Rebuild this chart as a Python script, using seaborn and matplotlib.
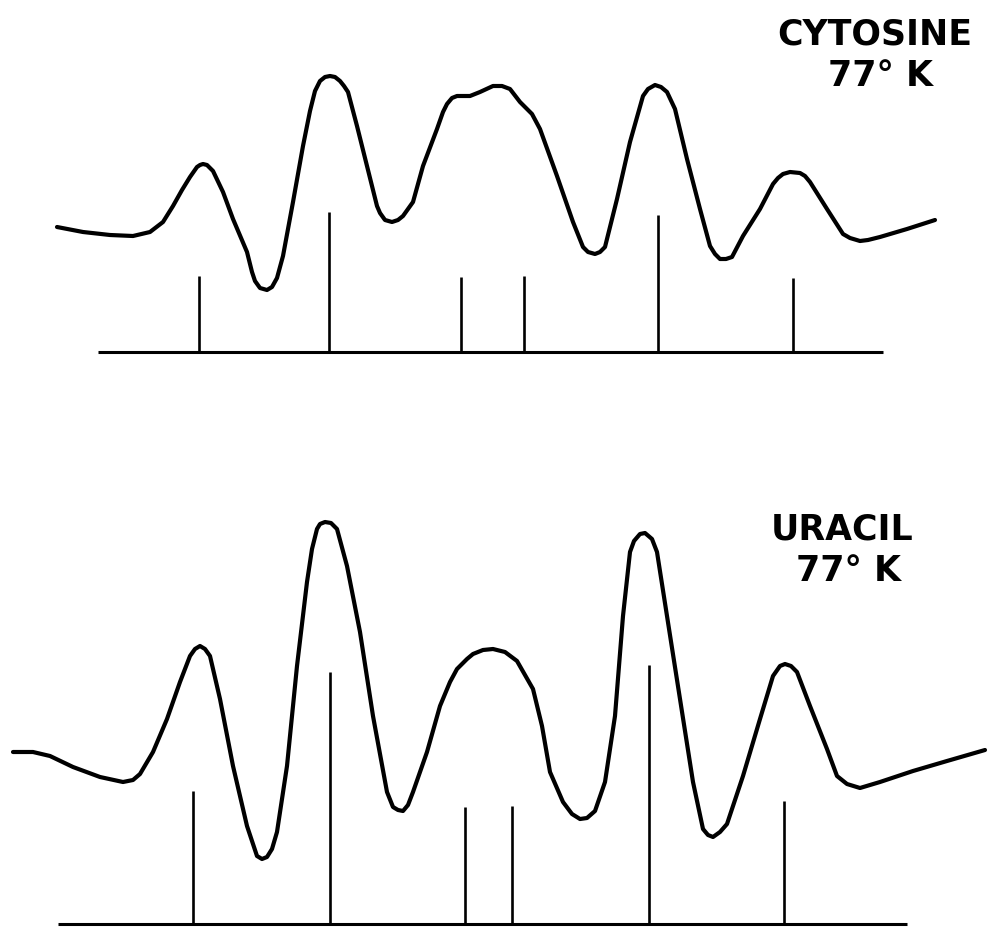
import numpy as np
import pandas as pd
import seaborn as sns
import matplotlib.pyplot as plt

# cytosine, 77 K: derivative trace (field position, signal height above stick baseline)
cyt_x = [57, 83, 110, 133, 150, 163, 173, 182, 190, 197, 200, 203, 207, 213, 223, 233, 247, 252,
         255, 260, 267, 272, 277, 283, 293, 303, 310, 315, 320, 325, 330, 335, 340, 344, 348, 357,
         367, 377, 380, 385, 392, 398, 403, 413, 423, 437, 443, 447, 452, 457, 470, 480, 493, 502,
         510, 520, 532, 540, 557, 573, 583, 588, 595, 600, 605, 617, 630, 643, 648, 655, 661, 667,
         675, 687, 700, 710, 715, 720, 726, 732, 743, 760, 773, 778, 783, 790, 800, 805, 810, 827,
         843, 850, 860, 868, 880, 907, 935]
cyt_y = [125, 120, 117, 116, 120, 130, 146, 162, 175, 185, 187, 188, 187, 181, 160, 133, 100, 80,
         71, 64, 62, 65, 74, 96, 150, 206, 241, 261, 271, 275, 276, 275, 271, 266, 260, 226,
         186, 146, 139, 132, 130, 132, 136, 150, 186, 223, 240, 248, 254, 256, 256, 260, 266, 266,
         263, 250, 238, 223, 176, 130, 105, 100, 98, 100, 105, 153, 210, 256, 263, 267, 265, 260,
         243, 193, 143, 106, 98, 93, 93, 95, 116, 143, 168, 174, 178, 180, 179, 176, 170, 143,
         118, 114, 111, 112, 115, 123, 132]
cyt_lines = [199, 329, 461, 524, 658, 793]
cyt_heights = [76, 140, 75, 76, 137, 74]

# uracil, 77 K
ura_x = [13, 33, 50, 73, 100, 123, 133, 140, 153, 167, 180, 190, 195, 200, 205, 210, 220, 233,
         247, 257, 262, 267, 272, 277, 287, 297, 307, 312, 317, 320, 325, 331, 337, 347, 360, 373,
         387, 393, 398, 403, 408, 413, 427, 440, 450, 457, 467, 473, 483, 493, 505, 517, 533, 542,
         550, 563, 572, 580, 587, 595, 605, 615, 623, 630, 634, 640, 645, 652, 657, 667, 680, 693,
         703, 708, 713, 720, 727, 743, 760, 773, 780, 785, 791, 797, 810, 827, 837, 847, 860, 880,
         913, 947, 985]
ura_y = [172, 172, 168, 157, 147, 142, 144, 150, 172, 205, 242, 268, 275, 278, 275, 268, 225, 158,
         98, 68, 65, 67, 75, 92, 158, 258, 342, 375, 395, 400, 402, 401, 395, 358, 292, 208,
         132, 117, 114, 113, 119, 132, 172, 218, 242, 255, 265, 270, 274, 275, 272, 263, 235, 198,
         152, 122, 110, 105, 106, 113, 142, 208, 308, 372, 383, 390, 391, 385, 372, 308, 225, 142,
         95, 89, 87, 92, 100, 148, 205, 248, 258, 260, 258, 252, 218, 175, 148, 140, 136, 142,
         153, 163, 174]
ura_lines = [193, 330, 465, 512, 649, 784]
ura_heights = [133, 252, 117, 118, 259, 123]

sns.set_style("white")
plt.rcParams['font.family'] = ['DejaVu Sans']

fig = plt.figure(figsize=(9.94, 9.28), dpi=100)
ax1 = fig.add_axes([0, 0.5, 1, 0.5])
ax2 = fig.add_axes([0, 0, 1, 0.5])

panels = [
    (ax1, cyt_x, cyt_y, cyt_lines, cyt_heights, (98, 883), (-111, 353), 'CYTOSINE', 875, 319, 277),
    (ax2, ura_x, ura_y, ura_lines, ura_heights, (58, 907), (-3, 461), 'URACIL', 842, 395, 354),
]

for ax, cx, cy, lx, lh, base, ylim, name, tx, ty1, ty2 in panels:
    df = pd.DataFrame({'field': cx, 'signal': cy})
    sns.lineplot(data=df, x='field', y='signal', ax=ax, color='black', linewidth=3.0,
                 estimator=None, sort=False, solid_joinstyle='round', solid_capstyle='round')
    ax.vlines(lx, 0, lh, color='black', linewidth=1.9)
    ax.hlines(0, base[0], base[1], color='black', linewidth=2.2)
    ax.text(tx, ty1, name, ha='center', va='center', fontsize=25, fontweight='bold', color='black')
    ax.text(tx + 6, ty2, '77° K', ha='center', va='center', fontsize=25, fontweight='bold', color='black')
    ax.set_xlim(0, 994)
    ax.set_ylim(*ylim)
    ax.axis('off')

fig.savefig('out.png', dpi=100, facecolor='white')
